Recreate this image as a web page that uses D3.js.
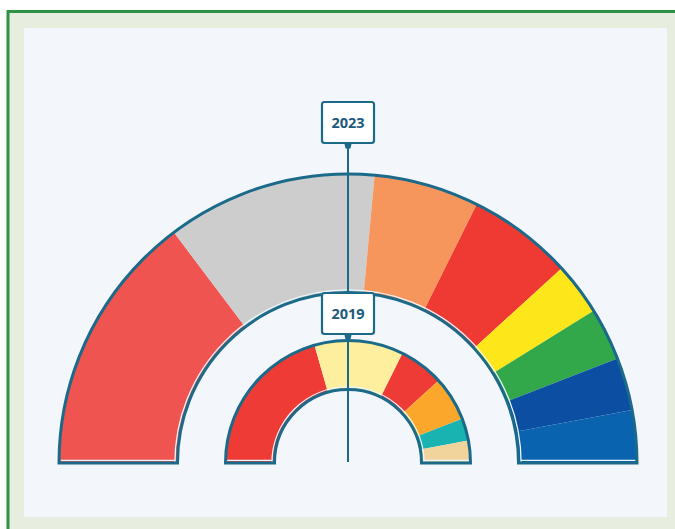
<!DOCTYPE html>
<html>
<head>
<meta charset="utf-8">
<script src="https://cdn.jsdelivr.net/npm/d3@7"></script>
<style>
  html, body { margin: 0; padding: 0; background: #fff; }
  svg { display: block; }
</style>
</head>
<body>
<svg width="675" height="529"></svg>
<script>
// seats per party, left to right
const seats2023 = [5, 4, 2, 2, 1, 1, 1, 1];
const colors2023 = ['#f05451', '#cdcdcd', '#f6955c', '#ee3a33', '#fde619', '#32a84a', '#0b4ea2', '#0a63ae'];
const seats2019 = [7, 4, 2, 2, 1, 1];
const colors2019 = ['#ee3b36', '#fdef9d', '#ee3b36', '#fba72c', '#19b3b2', '#f0d49b'];
const years = ['2023', '2019'];

const svg = d3.select('svg');
const cx = 348, cy = 463;
const ink = '#1b6a8a';

// frame
svg.append('rect').attr('x', 8).attr('y', 11.5).attr('width', 700).attr('height', 560)
    .attr('fill', '#e7eddf').attr('stroke', '#2e9146').attr('stroke-width', 3);
svg.append('rect').attr('x', 24).attr('y', 28).attr('width', 643).attr('height', 489)
    .attr('fill', '#f3f7fb');

const g = svg.append('g').attr('transform', `translate(${cx},${cy})`);

const pie = d3.pie().sort(null).startAngle(-Math.PI / 2).endAngle(Math.PI / 2);

const rings = [
    {seats: seats2023, colors: colors2023, r0: 170.5, r1: 289},
    {seats: seats2019, colors: colors2019, r0: 73.5, r1: 122.5}
];

rings.forEach(ring => {
    const arc = d3.arc().innerRadius(ring.r0).outerRadius(ring.r1);
    g.selectAll(null)
        .data(pie(ring.seats))
        .enter()
        .append('path')
            .attr('d', arc)
            .attr('fill', (d, i) => ring.colors[i]);

    // thin light line inside the frame of the ring
    const rw = ring.r0 + 2.6;
    g.append('path')
        .attr('d', d3.arc().innerRadius(rw).outerRadius(rw)({startAngle: -Math.PI / 2, endAngle: Math.PI / 2}))
        .attr('fill', 'none').attr('stroke', '#eaf6fb').attr('stroke-width', 1.3);
    [-1, 1].forEach(s => {
        g.append('line')
            .attr('x1', s * rw).attr('x2', s * (ring.r1 - 1.5))
            .attr('y1', -2.6).attr('y2', -2.6)
            .attr('stroke', '#eaf6fb').attr('stroke-width', 1.3);
    });

    g.append('path')
        .attr('d', arc({startAngle: -Math.PI / 2, endAngle: Math.PI / 2}))
        .attr('fill', 'none')
        .attr('stroke', ink)
        .attr('stroke-width', 3)
        .attr('stroke-linejoin', 'miter');
});

// vertical pointer
const boxW = 52, boxH = 41;
const boxTop = [102, 293];
g.append('line')
    .attr('x1', 0).attr('x2', 0)
    .attr('y1', boxTop[0] + boxH - cy).attr('y2', -1)
    .attr('stroke', ink).attr('stroke-width', 2);

years.forEach((yr, i) => {
    const top = boxTop[i] - cy;
    g.append('rect')
        .attr('x', -boxW / 2).attr('y', top)
        .attr('width', boxW).attr('height', boxH)
        .attr('rx', 2.5)
        .attr('fill', '#ffffff')
        .attr('stroke', ink).attr('stroke-width', 2.2);
    g.append('text')
        .attr('x', 0).attr('y', top + boxH / 2 + 5.3)
        .attr('text-anchor', 'middle')
        .attr('font-family', 'Open Sans, sans-serif')
        .attr('font-weight', 700)
        .attr('font-size', 14.5)
        .attr('fill', '#1c5a7c')
        .text(yr);
    const b = top + boxH + 1;
    g.append('path')
        .attr('d', `M-3.5,${b}L3.5,${b}L2.5,${b + 4.5}L-2.5,${b + 4.5}Z`)
        .attr('fill', ink);
});
</script>
</body>
</html>
